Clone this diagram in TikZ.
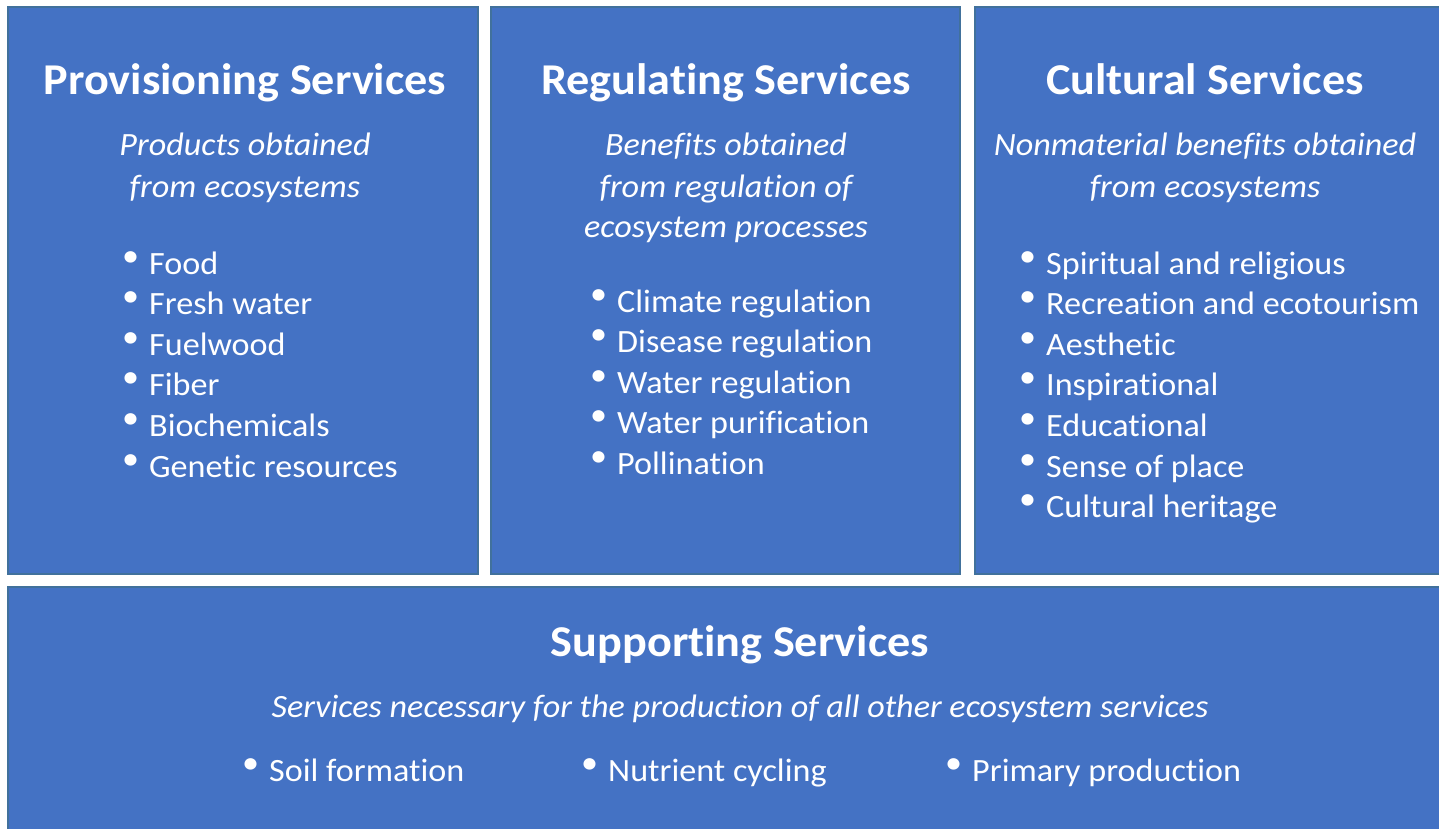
\documentclass[tikz,border=0pt]{standalone}
\usepackage{fontspec}
\setmainfont{Carlito}[FakeStretch=1.05,RawFeature=-liga,RawFeature=-clig,RawFeature=-calt]
\definecolor{svcfill}{HTML}{4472C4}
\definecolor{svcline}{HTML}{41719C}
\tikzset{
  svcbox/.style={draw=svcline,fill=svcfill,line width=1.5pt},
  svctitle/.style={anchor=base,text=white,inner sep=0pt,font=\fontsize{44}{52}\selectfont\bfseries},
  svcnote/.style={anchor=base,text=white,inner sep=0pt,font=\fontsize{32.5}{40}\selectfont\itshape},
  svcitem/.style={anchor=base west,text=white,inner sep=0pt,font=\fontsize{32.5}{40}\selectfont},
}
\newcommand{\svcbullet}{\makebox[27pt][l]{\raisebox{8pt}{\textbullet}}}
\begin{document}
\begin{tikzpicture}[x=1pt,y=-1pt]
  \useasboundingbox (0,0) rectangle (1439,829);
  % the four boxes
  \draw[svcbox] (8,7) rectangle (478,574);
  \draw[svcbox] (491,7) rectangle (960,574);
  \draw[svcbox] (975,7) rectangle (1442,574);
  \draw[svcbox] (8,587) rectangle (1442,832);

  % provisioning
  \node[svctitle] (provtitle) at (245,95) {Provisioning Services};
  \node[svcnote] (provnote1) at (245,156) {Products obtained};
  \node[svcnote] (provnote2) at (245,197) {from ecosystems};
  \foreach \txt [count=\i from 0] in {Food,Fresh water,Fuelwood,Fiber,Biochemicals,Genetic resources}
  {
    \node[svcitem] (prov\i) at (122,274+40.6*\i) {\svcbullet\txt};
  }

  % regulating
  \node[svctitle] (regtitle) at (726,95) {Regulating Services};
  \node[svcnote] (regnote1) at (726,156) {Benefits obtained};
  \node[svcnote] (regnote2) at (726,197) {from regulation of};
  \node[svcnote] (regnote3) at (726,237) {ecosystem processes};
  \foreach \txt [count=\i from 0] in {Climate regulation,Disease regulation,Water regulation,Water purification,Pollination}
  {
    \node[svcitem] (reg\i) at (590,312+40.6*\i) {\svcbullet\txt};
  }

  % cultural
  \node[svctitle] (culttitle) at (1205,95) {Cultural Services};
  \node[svcnote] (cultnote1) at (1205,156) {Nonmaterial benefits obtained};
  \node[svcnote] (cultnote2) at (1205,197) {from ecosystems};
  \foreach \txt [count=\i from 0] in {Spiritual and religious,Recreation and ecotourism,Aesthetic,Inspirational,Educational,Sense of place,Cultural heritage}
  {
    \node[svcitem] (cult\i) at (1019,274+40.6*\i) {\svcbullet\txt};
  }

  % supporting
  \node[svctitle] (supptitle) at (740,656) {Supporting Services};
  \node[svcnote] (suppnote) at (740,717) {Services necessary for the production of all other ecosystem services};
  \node[svcitem] (supp0) at (242,781) {\svcbullet Soil formation};
  \node[svcitem] (supp1) at (581,781) {\svcbullet Nutrient cycling};
  \node[svcitem] (supp2) at (945,781) {\svcbullet Primary production};
\end{tikzpicture}
\end{document}
